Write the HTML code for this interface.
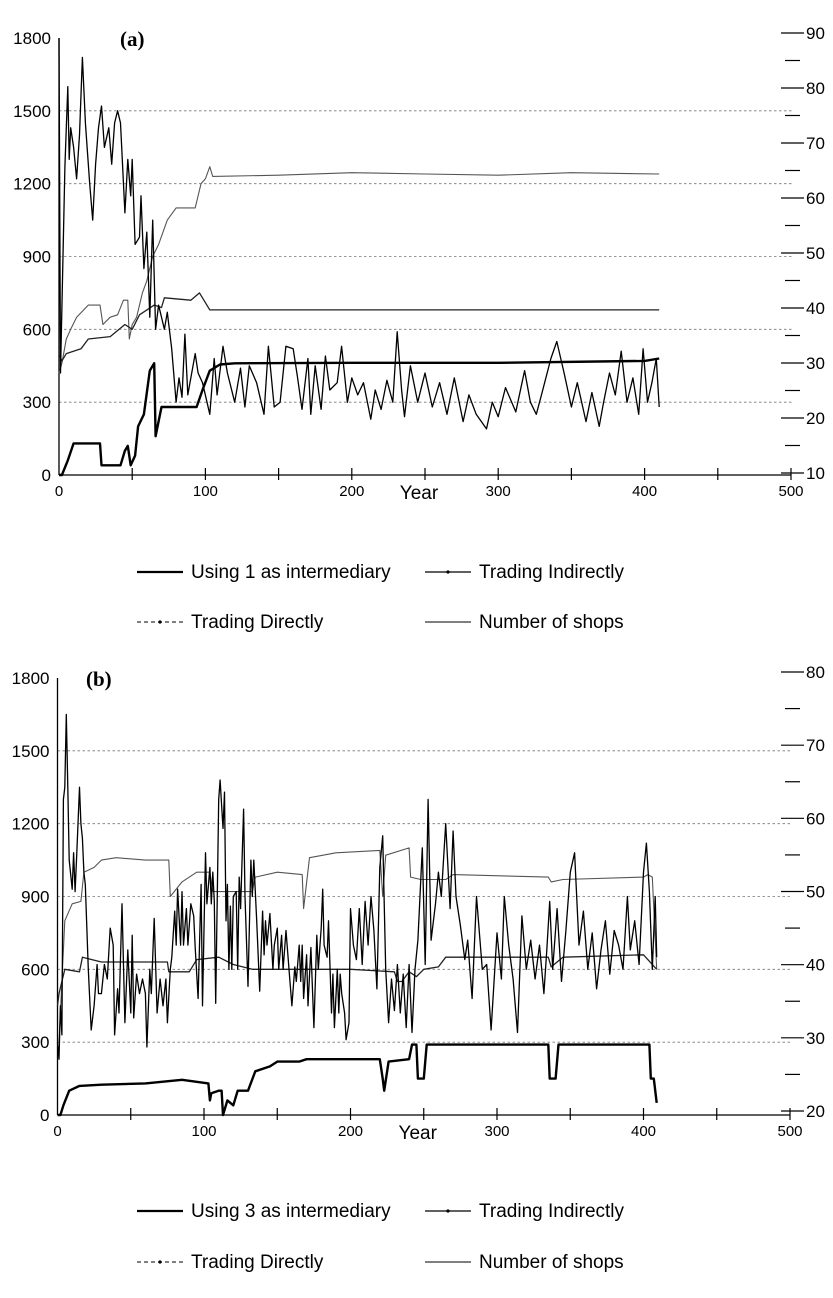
<!DOCTYPE html>
<html><head><meta charset="utf-8">
<style>
html,body{margin:0;padding:0;background:#fff;}
svg{display:block;font-family:"Liberation Sans",sans-serif;}
</style></head>
<body>
<svg id="chart" width="833" height="1298" viewBox="0 0 833 1298"></svg>
<script>
// ---------- Panel (a) data ----------
const xTicks = [0,100,200,300,400,500];
const leftTicks = [0,300,600,900,1200,1500,1800];
const rightTicksA = [10,20,30,40,50,60,70,80,90];
const rightTicksB = [20,30,40,50,60,70,80];

const aInterYears = [0,2,6,10,28,29,42,45,47,49,52,54,58,62,65,66,70,94,98,103,110,120,200,300,400,410];
const aInterVals  = [0,0,60,130,130,40,40,100,120,40,80,200,250,430,460,160,280,280,350,430,455,460,462,462,470,480];

const aShopsYears = [0,2,5,8,12,20,28,30,35,40,44,47,48,50,53,57,60,64,68,74,80,93,97,100,103,105,150,200,250,300,350,410];
const aShopsVals  = [420,460,560,600,650,700,700,620,650,660,720,720,560,620,650,750,800,900,950,1050,1100,1100,1200,1220,1270,1230,1235,1245,1240,1235,1245,1240];

const aDirectYears = [0,2,5,15,20,35,45,50,55,65,70,72,90,96,103,150,200,300,410];
const aDirectVals  = [500,470,500,520,560,570,620,600,660,700,690,730,720,750,680,680,680,680,680];

const aIndYears = [0,1,4,6,7,8,10,12,14,16,18,21,23,25,27,29,31,34,36,38,40,42,45,47,49,50,52,55,56,58,60,62,64,66,68,72,74,77,80,82,84,86,88,93,95,98,103,106,108,112,115,120,124,127,130,135,140,143,147,151,155,160,163,166,170,172,175,179,182,185,190,193,197,200,204,208,213,216,220,224,228,231,234,236,240,245,250,255,260,265,270,276,280,285,292,296,300,305,312,318,322,326,330,336,340,345,350,354,360,364,369,372,376,380,384,388,392,396,399,402,405,408,410];
const aIndVals  = [1800,420,1270,1600,1300,1430,1350,1220,1400,1720,1450,1200,1050,1280,1430,1520,1350,1430,1280,1450,1500,1450,1080,1300,1150,1300,950,980,1150,850,1000,650,1050,600,700,600,670,520,300,400,320,580,330,500,420,380,250,480,330,530,420,300,440,280,450,380,250,530,280,300,530,520,400,270,480,250,450,270,490,350,380,530,300,400,330,380,230,350,270,390,300,590,350,240,450,300,420,280,380,250,400,220,330,250,190,300,240,360,260,430,300,250,340,480,550,420,280,380,220,340,200,300,420,330,510,300,400,250,520,300,380,480,280];

// ---------- Panel (b) data ----------
const bInterYears = [0,2,4,8,15,30,60,85,103,104,105,110,112,113,116,120,123,130,135,145,150,165,170,220,222,223,226,240,242,245,246,250,252,300,335,336,340,342,380,404,405,407,409];
const bInterVals  = [0,0,40,100,120,125,130,145,130,60,90,100,100,0,60,40,100,100,180,200,220,220,230,230,150,100,220,230,290,290,150,150,290,290,290,150,150,290,290,290,150,150,50];

const bShopsYears = [0,1,5,10,16,18,25,30,40,60,76,77,85,95,104,106,110,133,135,150,167,168,172,190,220,222,224,240,241,248,265,270,335,337,345,400,403,406,409];
const bShopsVals  = [300,300,800,870,880,1000,1020,1050,1060,1050,1050,900,960,1000,1000,920,920,920,980,1000,990,850,1060,1080,1090,900,1070,1100,980,970,970,990,980,960,970,980,990,980,600];

const bDirectYears = [0,1,5,15,17,30,75,76,90,95,110,120,133,200,230,232,235,240,245,250,260,265,335,337,345,400,409];
const bDirectVals  = [450,500,600,590,650,630,630,590,590,640,650,620,600,600,590,550,550,590,570,600,610,650,650,610,650,660,600];

const bIndYears = [0,1,2,3,4,5,6,7,8,10,11,12,13,15,16,17,18,19,21,23,25,27,28,30,32,34,36,38,39,41,42,44,46,48,50,51,52,54,56,58,60,61,63,64,66,68,70,72,74,75,77,78,80,81,82,84,85,86,88,89,91,93,94,96,98,99,101,102,104,105,106,107,108,110,111,113,114,115,116,117,118,119,120,122,123,124,125,127,128,130,132,133,134,136,138,140,141,142,143,145,147,148,150,151,153,154,156,158,160,162,163,165,166,167,168,170,171,173,175,177,178,180,181,182,184,185,187,188,189,191,192,193,194,196,197,199,200,202,204,206,208,210,212,214,216,218,220,222,224,226,228,230,232,234,236,238,240,242,244,246,249,251,253,255,258,260,262,265,268,270,272,275,278,280,283,286,290,293,296,300,303,305,308,311,314,317,320,323,326,329,332,334,336,338,341,344,347,350,353,356,359,362,365,368,371,374,377,380,383,386,389,391,394,397,400,402,404,406,408,409];
const bIndVals  = [300,230,450,330,1300,1350,1650,1350,1050,930,1080,920,1050,1350,1200,1140,1000,950,600,350,450,620,500,500,620,560,770,700,330,520,420,870,380,680,420,740,400,580,500,560,500,280,600,500,810,420,560,450,560,380,600,650,840,700,930,700,920,700,850,700,870,820,690,480,950,450,1080,870,1020,870,1000,880,460,1300,1380,1180,1330,800,950,600,860,600,900,920,600,980,850,1260,900,530,1050,900,1050,800,510,840,660,800,700,830,600,700,770,600,740,600,760,600,450,610,550,700,550,700,480,660,450,690,360,740,600,770,930,700,650,800,420,580,360,600,420,580,500,420,310,380,850,700,640,850,620,880,700,900,760,520,1020,1150,600,380,560,430,620,420,580,360,620,340,600,720,1100,620,1300,720,870,1000,900,1200,850,1170,900,780,640,720,480,900,600,620,350,750,560,900,700,560,340,820,600,720,560,700,500,680,880,600,850,550,760,1000,1080,700,840,600,750,520,680,800,580,760,700,600,900,680,800,620,1000,1120,920,600,900,650,820,560,1390,600];

const svg = document.getElementById('chart');
const NS = 'http://www.w3.org/2000/svg';
function el(tag, attrs, parent){
  const e = document.createElementNS(NS, tag);
  for (const k in attrs) e.setAttribute(k, attrs[k]);
  (parent||svg).appendChild(e);
  return e;
}

function drawPanel(p){
  const g = el('g', {});
  
  
  const X = v => p.x0 + (v/500)*(p.x1 - p.x0);
  const Y = v => p.y0 - (v/1800)*(p.y0 - p.y1);
  const RY = v => p.ry0 - (v - p.rmin)/(p.rmax - p.rmin)*(p.ry0 - p.ry1);

  leftTicks.forEach(t => {
    if (t === 0 || t === 1800) return;
    const l = el('line', {x1:X(0), x2:p.gridEnd, y1:Y(t), y2:Y(t), stroke:'#777', 'stroke-width':0.8, 'stroke-dasharray':'2.5,2.5'}, g);
    
    
  });
  const la = el('line', {x1:X(0), x2:X(0), y1:Y(0), y2:Y(1800), stroke:'#000', 'stroke-width':1.3}, g);
  
  
  leftTicks.forEach(t => {
    const tx = el('text', {x:X(0)-8, y:Y(t)+6, 'text-anchor':'end', 'font-size':17}, g);
    tx.textContent = t;
    
    
  });
  const xa = el('line', {x1:X(0), x2:X(500), y1:Y(0), y2:Y(0), stroke:'#000', 'stroke-width':1.2}, g);
  
  
  for (let v = 50; v <= 500; v += 50) {
    const tk = el('line', {x1:X(v), x2:X(v), y1:Y(0)-7, y2:Y(0)+5, stroke:'#000', 'stroke-width':1.2}, g);
    
    
  }
  xTicks.forEach(t => {
    const tx = el('text', {x:X(t), y:Y(0)+21, 'text-anchor':'middle', 'font-size':15}, g);
    tx.textContent = t;
    
    
  });
  const xt = el('text', {x:X(250)-6, y:Y(0)+24, 'text-anchor':'middle', 'font-size':19}, g);
  xt.textContent = 'Year';
  
  
  p.rTicks.forEach(t => {
    const tk = el('line', {x1:781, x2:804, y1:RY(t), y2:RY(t), stroke:'#000', 'stroke-width':1.2}, g);
    
    
    const tx = el('text', {x:806, y:RY(t)+6, 'font-size':17}, g);
    tx.textContent = t;
    
    
    if (t < p.rmax) {
      const mk = el('line', {x1:785, x2:800, y1:RY(t+5), y2:RY(t+5), stroke:'#000', 'stroke-width':1.2}, g);
      
      
    }
  });
  const pl = el('text', {x:p.labelX, y:Y(1800)+8, 'font-size':21, 'font-weight':'bold', 'font-family':'"Liberation Serif",serif'}, g);
  pl.textContent = p.label;
  
  

  function series(xs, vs, stroke, w, dash, name){
    const d = xs.map((x,i) => (i?'L':'M') + X(x).toFixed(1) + ',' + Y(vs[i]).toFixed(1)).join('');
    const attrs = {d:d, fill:'none', stroke:stroke, 'stroke-width':w, 'stroke-linejoin':'round'};
    if (dash) attrs['stroke-dasharray'] = dash;
    const path = el('path', attrs, g);
    
    
  }
  series(p.shops[0], p.shops[1], '#555', 1.1, null, 'series-number-of-shops');
  series(p.direct[0], p.direct[1], '#222', 1.3, null, 'series-trading-directly');
  series(p.ind[0], p.ind[1], '#000', 1.3, null, 'series-trading-indirectly');
  series(p.inter[0], p.inter[1], '#000', 2.4, null, 'series-intermediary');

  const lg = el('g', {}, g);
  
  
  const items = [
    {x:137, y:p.legY1, text:p.interLabel, w:2.2, dash:null, dot:false, name:'legend-intermediary'},
    {x:425, y:p.legY1, text:'Trading Indirectly', w:1.2, dash:null, dot:true, name:'legend-trading-indirectly'},
    {x:137, y:p.legY2, text:'Trading Directly', w:1, dash:'4,3', dot:true, name:'legend-trading-directly'},
    {x:425, y:p.legY2, text:'Number of shops', w:1, dash:null, dot:false, name:'legend-number-of-shops'}
  ];
  items.forEach(it => {
    const ln = el('line', {x1:it.x, x2:it.x+46, y1:it.y, y2:it.y, stroke:'#000', 'stroke-width':it.w}, lg);
    if (it.dash) ln.setAttribute('stroke-dasharray', it.dash);
    
    
    if (it.dot) {
      const c = el('circle', {cx:it.x+23, cy:it.y, r:1.6, fill:'#000'}, lg);
      
      
    }
    const tx = el('text', {x:it.x+54, y:it.y+6, 'font-size':19}, lg);
    tx.textContent = it.text;
    
    
  });
}

drawPanel({
  name:'panel-a', label:'(a)', labelX:120,
  x0:59, x1:791, y0:475, y1:38, gridEnd:792,
  rmin:10, rmax:90, ry0:473, ry1:33, rTicks:rightTicksA,
  inter:[aInterYears,aInterVals], shops:[aShopsYears,aShopsVals],
  direct:[aDirectYears,aDirectVals], ind:[aIndYears,aIndVals],
  interLabel:'Using 1 as intermediary', legY1:572, legY2:622
});
drawPanel({
  name:'panel-b', label:'(b)', labelX:86,
  x0:57.5, x1:790, y0:1115, y1:678, gridEnd:790,
  rmin:20, rmax:80, ry0:1111, ry1:672, rTicks:rightTicksB,
  inter:[bInterYears,bInterVals], shops:[bShopsYears,bShopsVals],
  direct:[bDirectYears,bDirectVals], ind:[bIndYears,bIndVals],
  interLabel:'Using 3 as intermediary', legY1:1211, legY2:1262
});
</script>
</body></html>
